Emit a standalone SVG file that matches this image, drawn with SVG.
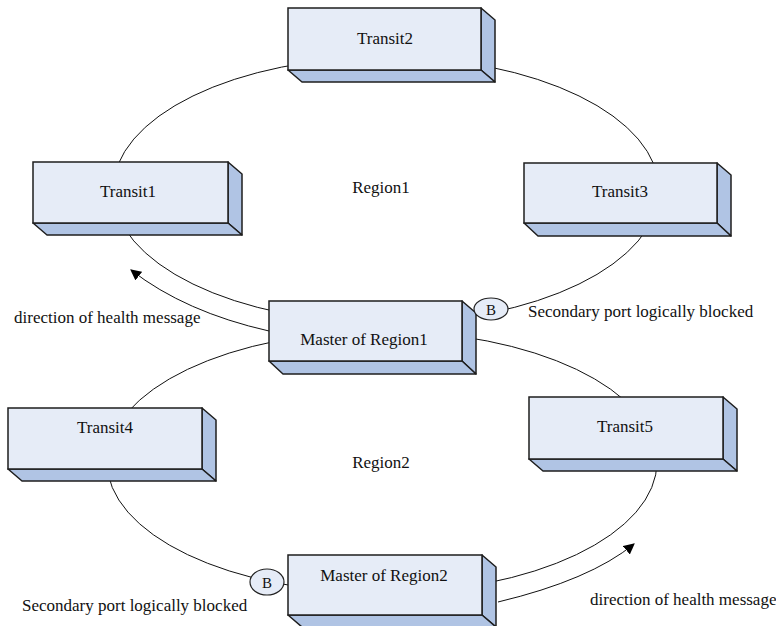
<svg xmlns="http://www.w3.org/2000/svg" width="776" height="626" viewBox="0 0 776 626" font-family="'Liberation Serif', 'DejaVu Serif', serif">
  <style>
    .ring { fill: none; stroke: #111; stroke-width: 1; }
    .flow { fill: none; stroke: #111; stroke-width: 1; }
    .face { fill: #e6ecf7; stroke: #1e1e1e; stroke-width: 1.5; }
    .depth { fill: #b0c4e4; stroke: #1e1e1e; stroke-width: 1.5; stroke-linejoin: round; }
    .port { fill: #e6ecf7; stroke: #222; stroke-width: 1.2; }
    text { font-family: 'Liberation Serif', 'DejaVu Serif', serif; font-size: 17px; fill: #111; }
    .c { text-anchor: middle; }
    .b { font-size: 15px; }
  </style>
  <defs>
    <marker id="arrow" viewBox="0 0 10 10" refX="9" refY="5" markerWidth="11" markerHeight="11" markerUnits="userSpaceOnUse" orient="auto">
      <path d="M0,0 L10,5 L0,10 Z" fill="#000"/>
    </marker>
  </defs>

  <!-- rings and message-direction arrows -->
  <g id="connectors">
    <ellipse class="ring" cx="386" cy="190" rx="273" ry="133"/>
    <ellipse class="ring" cx="382" cy="462" rx="275" ry="131"/>
    <path class="flow" d="M269,331 Q185,312 131,270" marker-end="url(#arrow)"/>
    <path class="flow" d="M498,602 Q590,580 634,544" marker-end="url(#arrow)"/>
  </g>

  <!-- 3D boxes: face, right side, bottom -->
  <g id="transit2">
    <polygon class="depth" points="481,8 495,20 495,82 481,70"/>
    <polygon class="depth" points="288,70 481,70 495,82 302,82"/>
    <rect class="face" x="288" y="8" width="193" height="62"/>
    <text class="c" x="385" y="44">Transit2</text>
  </g>
  <g id="transit1">
    <polygon class="depth" points="228,162 242,174 242,235 228,223"/>
    <polygon class="depth" points="33,223 228,223 242,235 47,235"/>
    <rect class="face" x="33" y="162" width="195" height="61"/>
    <text class="c" x="128" y="197">Transit1</text>
  </g>
  <g id="transit3">
    <polygon class="depth" points="717,163 731,175 731,236 717,223"/>
    <polygon class="depth" points="524,223 717,223 731,236 538,236"/>
    <rect class="face" x="524" y="163" width="193" height="60"/>
    <text class="c" x="620" y="197">Transit3</text>
  </g>
  <g id="master1">
    <polygon class="depth" points="462,301 476,313 476,374 462,361"/>
    <polygon class="depth" points="269,361 462,361 476,374 283,374"/>
    <rect class="face" x="269" y="301" width="193" height="60"/>
    <text class="c" x="364" y="345">Master of Region1</text>
  </g>
  <g id="transit4">
    <polygon class="depth" points="202,408 216,420 216,481 202,469"/>
    <polygon class="depth" points="8,469 202,469 216,481 22,481"/>
    <rect class="face" x="8" y="408" width="194" height="61"/>
    <text class="c" x="105" y="433">Transit4</text>
  </g>
  <g id="transit5">
    <polygon class="depth" points="723,397 737,409 737,471 723,459"/>
    <polygon class="depth" points="529,459 723,459 737,471 543,471"/>
    <rect class="face" x="529" y="397" width="194" height="62"/>
    <text class="c" x="625" y="432">Transit5</text>
  </g>
  <g id="master2">
    <polygon class="depth" points="482,555 496,567 496,627 482,615"/>
    <polygon class="depth" points="288,615 482,615 496,627 302,627"/>
    <rect class="face" x="288" y="555" width="194" height="60"/>
    <text class="c" x="384" y="581">Master of Region2</text>
  </g>

  <!-- blocked secondary ports -->
  <g id="port1">
    <ellipse class="port" cx="491" cy="309" rx="17" ry="11"/>
    <text class="c b" x="491" y="314.5">B</text>
  </g>
  <g id="port2">
    <ellipse class="port" cx="267" cy="582" rx="17" ry="13"/>
    <text class="c b" x="267" y="587.5">B</text>
  </g>

  <!-- region and annotation labels -->
  <g id="labels">
    <text class="c" x="381" y="193">Region1</text>
    <text class="c" x="381" y="468">Region2</text>
    <text x="14" y="323">direction of health message</text>
    <text x="528" y="317">Secondary port logically blocked</text>
    <text x="22" y="611">Secondary port logically blocked</text>
    <text x="590" y="605">direction of health message</text>
  </g>
</svg>
